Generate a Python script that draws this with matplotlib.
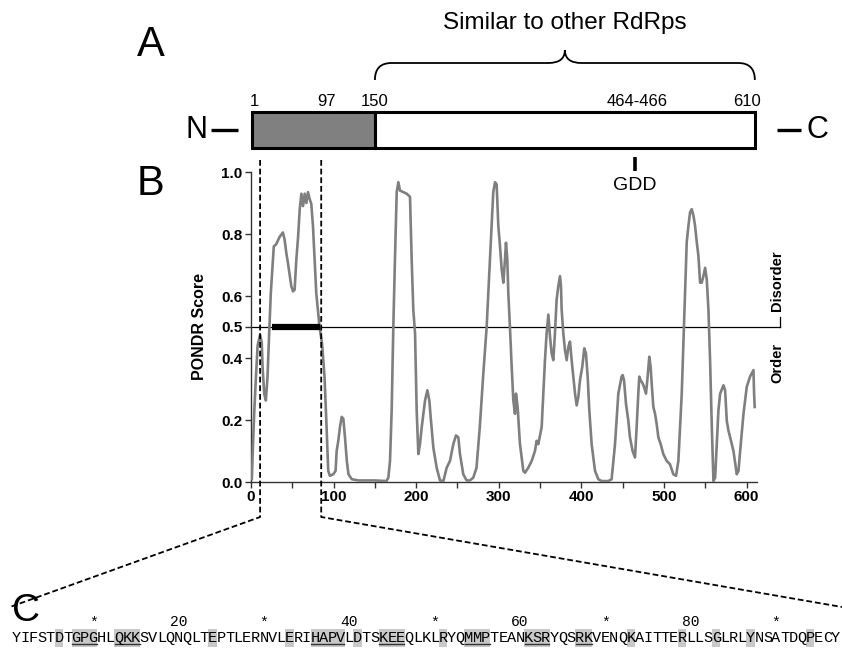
import matplotlib
matplotlib.use('Agg')
import matplotlib.pyplot as plt
from matplotlib.path import Path
from matplotlib.patches import PathPatch, Rectangle

plt.rcParams['font.family'] = ['Liberation Sans', 'DejaVu Sans']

# ---------------- data ----------------
residue = [1, 2, 4, 6, 8, 11, 13, 14, 16, 18, 20, 22, 24, 27.6, 30.5, 34.5, 38.6, 40.6, 42.7, 44.7,
           48.8, 50.8, 52.8, 54.9, 57, 59, 61, 63, 65, 67, 69, 71, 73, 75, 77, 79, 83, 86, 89, 91.5,
           93.5, 95.5, 99.6, 102.4, 103.7, 105.7, 107.7, 109.8, 111.8, 113.8, 116, 118, 122, 130, 150,
           164, 166.3, 168.3, 170.3, 172.3, 174.3, 176.4, 178.4, 180.4, 184.4, 188.5, 192.5, 194.5,
           196.5, 198.6, 200.6, 202.6, 204.6, 206.7, 208.7, 210.7, 213.5, 215.9, 217.5, 220.8, 224.8,
           228.8, 232.9, 236.9, 240.9, 245, 248.2, 251, 253, 257, 261, 265, 269.1, 273, 277, 281,
           285.3, 289.3, 293.3, 295.4, 297.4,
           299.4, 301.4, 303.5, 305.5, 307.5, 308.7, 310.3, 311.5, 313.5, 315.6, 317.6, 319.6, 320.8,
           322.8, 325.6, 329.7, 331.7, 335.7, 339.8, 343.8, 345.8, 347.8, 351.9, 353.9, 355.9, 357.9,
           360, 362, 364, 366, 368, 370, 372, 374.1, 375.3, 376.1, 378.1, 380.1, 382.2, 384.2, 386.2,
           388.2, 390.2, 392.3, 394.3, 396.3, 398.3, 401.1, 403.5, 405.5, 407.6, 409.6, 412.4, 416.5,
           420.5, 424.5, 432.6, 436.6, 440.7, 444.7, 448.7,
           450, 451.6, 454, 456.8, 458.8, 462, 464.9, 466.9, 468.9, 470.1, 471.8, 474.2, 475.8, 478.2,
           479.8, 482.2, 483.8, 485.1, 487.1, 489.1, 491.1, 493.2, 496, 499.2, 503.3, 507.3, 511.3,
           514.6, 517.4, 519.4, 521.5, 523.5, 525.5, 527.5, 529.6, 531.6, 533.6, 535.6, 537.6, 539.7,
           541.7, 543.7, 545.7, 547.7, 549.8, 551.8, 553.8, 555.8, 557.9, 559.9, 561.9, 563.9, 565.9,
           568, 572, 574, 576, 578, 580.1, 584.1, 588.1, 590.2, 592.2, 596.2, 600.2, 604.2, 608.3,
           609.1, 609.8]
pondr_score = [0.01, 0.09, 0.23, 0.34, 0.44, 0.475, 0.45, 0.37, 0.285, 0.263, 0.34, 0.48, 0.61, 0.76,
               0.767, 0.79, 0.805, 0.783, 0.74, 0.707, 0.632, 0.615, 0.62, 0.718, 0.79, 0.88, 0.93,
               0.89, 0.93, 0.9, 0.935, 0.913, 0.897, 0.827, 0.718, 0.61, 0.50, 0.447, 0.34, 0.177,
               0.036, 0.02, 0.025, 0.036, 0.1, 0.133, 0.177, 0.21, 0.204, 0.144, 0.068, 0.025, 0.009,
               0.005, 0.005,
               0.003, 0.014, 0.068, 0.23, 0.5, 0.72, 0.935, 0.967, 0.94, 0.935, 0.93, 0.92, 0.72,
               0.556, 0.48, 0.23, 0.09, 0.123, 0.177, 0.22, 0.263, 0.296, 0.263, 0.21, 0.11, 0.046,
               0.005, 0.003, 0.046, 0.068, 0.123, 0.15, 0.144, 0.09, 0.025, 0.005, 0.005, 0.014, 0.046,
               0.177, 0.34, 0.5, 0.718, 0.935, 0.967, 0.96,
               0.827, 0.762, 0.686, 0.643, 0.718, 0.772, 0.718, 0.61, 0.5, 0.372, 0.263, 0.22, 0.285,
               0.242, 0.123, 0.036, 0.03, 0.046, 0.068, 0.1, 0.133, 0.122, 0.177, 0.285, 0.393, 0.48,
               0.54, 0.469, 0.415, 0.393, 0.48, 0.588, 0.631, 0.664, 0.631, 0.556, 0.48, 0.426, 0.393,
               0.436, 0.453, 0.393, 0.34, 0.285, 0.247, 0.274, 0.328, 0.372, 0.431, 0.415, 0.34, 0.231,
               0.122, 0.036, 0.009, 0.003, 0.003, 0.009, 0.122, 0.285, 0.34,
               0.345, 0.328, 0.252, 0.198, 0.144, 0.1, 0.079, 0.177, 0.285, 0.34, 0.328, 0.318, 0.307,
               0.285, 0.328, 0.404, 0.372, 0.318, 0.242, 0.221, 0.188, 0.144, 0.122, 0.09, 0.068,
               0.057, 0.025, 0.02, 0.068, 0.177, 0.285, 0.448, 0.61, 0.773, 0.827, 0.87, 0.88, 0.86,
               0.827, 0.773, 0.729, 0.643, 0.643, 0.664, 0.691, 0.653, 0.556, 0.393, 0.177, 0.003,
               0.014, 0.122, 0.231, 0.285, 0.312, 0.296, 0.198, 0.166, 0.144, 0.1, 0.025, 0.036, 0.1,
               0.219, 0.307, 0.34, 0.361, 0.285, 0.242]

threshold = 0.5
disorder_region = [26, 83]
zoom_region = [11, 85]

domain_starts = [1, 150]
domain_ends = [150, 610]
domain_colors = ['#808080', '#ffffff']
site_labels = ['1', '97', '150', '464-466', '610']
site_positions = [1, 97, 150, 465, 610]
gdd_position = 465
similar_region = [150, 610]

sequence = ("YIFSTDTGPGHLQKKSVLQNQLTEPTLERNVLERIHAPVLDTSKEEQLKLRYQMMPTEANKSRY"
            "QSRKVENQKAITTERLLSGLRLYNSATDQPECY")
shaded_positions = [6, 8, 9, 10, 13, 14, 15, 24, 33, 36, 37, 38, 39, 41, 44, 45, 46, 51,
                    54, 55, 56, 61, 62, 63, 67, 68, 73, 79, 83, 87, 94]
underlined_groups = [(8, 10), (13, 15), (36, 39), (44, 46), (54, 56), (61, 63), (67, 68)]
ruler_positions = [10, 20, 30, 40, 50, 60, 70, 80, 90]
ruler_labels = ['*', '20', '*', '40', '*', '60', '*', '80', '*']

# ---------------- figure ----------------
W, H = 842, 649
fig = plt.figure(figsize=(W / 100, H / 100), dpi=100)


def fig_rect(x0, y0, x1, y1):
    return [x0 / W, 1 - y1 / H, (x1 - x0) / W, (y1 - y0) / H]


# ---- panel B ----
ax_b = fig.add_axes(fig_rect(251, 172, 756.5, 482))
ax_b.plot(residue, pondr_score, color='#7f7f7f', lw=1.9, zorder=3)
ax_b.set_xlim(0, 612)
ax_b.set_ylim(0, 1.0)
ax_b.plot([0, 640], [threshold, threshold], color='black', lw=0.9, clip_on=False, zorder=2)
ax_b.plot([640, 640], [threshold, threshold + 0.032], color='black', lw=0.9, clip_on=False)
ax_b.plot(disorder_region, [threshold, threshold], color='black', lw=4.5,
          solid_capstyle='butt', zorder=4)
for s in ['top', 'right']:
    ax_b.spines[s].set_visible(False)
for s in ['left', 'bottom']:
    ax_b.spines[s].set_color('#333333')
    ax_b.spines[s].set_linewidth(1.0)
ax_b.set_xticks([0, 100, 200, 300, 400, 500, 600])
ax_b.set_xticks([50, 150, 250, 350, 450, 550], minor=True)
ax_b.set_yticks([0, 0.2, 0.4, 0.5, 0.6, 0.8, 1.0])
ax_b.set_yticklabels(['0.0', '0.2', '0.4', '0.5', '0.6', '0.8', '1.0'])
ax_b.tick_params(which='both', direction='out', length=4, width=1, color='#333333', pad=2,
                 labelsize=11)
for lab in ax_b.get_xticklabels() + ax_b.get_yticklabels():
    lab.set_fontweight('bold')
ax_b.set_ylabel('PONDR Score', fontsize=11.5, fontweight='bold')
ax_b.yaxis.set_label_coords(-0.087, 0.5)
ax_b.text(637, 0.648, 'Disorder', rotation=90, ha='center', va='center', fontsize=10.5,
          fontweight='bold', clip_on=False)
ax_b.text(637, 0.384, 'Order', rotation=90, ha='center', va='center', fontsize=10.5,
          fontweight='bold', clip_on=False)

# ---- panel A (x in residues, y in pixels from top) ----
ax_a = fig.add_axes(fig_rect(251, 0, 756.5, 200))
ax_a.set_xlim(0, 612)
ax_a.set_ylim(200, 0)
ax_a.axis('off')
for s, e, c in zip(domain_starts, domain_ends, domain_colors):
    ax_a.add_patch(Rectangle((s, 112), e - s, 36, facecolor=c, edgecolor='black', lw=2.2,
                             clip_on=False))
label_x = [4, 92, 150, 467, 600]
for lab, lx in zip(site_labels, label_x):
    ax_a.text(lx, 101, lab, ha='center', va='center', fontsize=12, clip_on=False)
ax_a.plot([gdd_position, gdd_position], [157, 171], color='black', lw=2.6,
          solid_capstyle='butt', clip_on=False)
ax_a.text(gdd_position, 186, 'GDD', ha='center', va='center', fontsize=14, clip_on=False)

b0, b1 = similar_region
mid = (b0 + b1) / 2
r = 20
verts = [(b0, 80), (b0, 63), (b0 + r, 63),
         (mid - r, 63),
         (mid, 63), (mid, 50),
         (mid, 63), (mid + r, 63),
         (b1 - r, 63),
         (b1, 63), (b1, 80)]
codes = [Path.MOVETO, Path.CURVE3, Path.CURVE3,
         Path.LINETO,
         Path.CURVE3, Path.CURVE3,
         Path.CURVE3, Path.CURVE3,
         Path.LINETO,
         Path.CURVE3, Path.CURVE3]
ax_a.add_patch(PathPatch(Path(verts, codes), facecolor='none', edgecolor='black', lw=1.3,
                         clip_on=False))
ax_a.text(mid, 23, 'Similar to other RdRps', ha='center', va='center', fontsize=17.5,
          clip_on=False)

# ---- panel C (x in residue index) ----
ax_c = fig.add_axes(fig_rect(12, 595, 840, 649))
ax_c.set_xlim(0.5, 97.5)
ax_c.set_ylim(649, 595)
ax_c.axis('off')
for p in shaded_positions:
    ax_c.add_patch(Rectangle((p - 0.5, 629), 1, 18, facecolor='#c8c8c8', edgecolor='none',
                             clip_on=False))
for a, b in underlined_groups:
    ax_c.plot([a - 0.45, b + 0.45], [644, 644], color='#333333', lw=1.0, clip_on=False)
for i, ch in enumerate(sequence, start=1):
    ax_c.text(i, 637.5, ch, ha='center', va='center', fontsize=11, family='Liberation Mono',
              clip_on=False)
for p, lab in zip(ruler_positions, ruler_labels):
    ax_c.text(p, 622 if lab != '*' else 623, lab, ha='center', va='center', fontsize=10.5,
              family='Liberation Mono', clip_on=False)

# ---- overlay (figure pixels) ----
ov = fig.add_axes([0, 0, 1, 1])
ov.set_xlim(0, W)
ov.set_ylim(H, 0)
ov.axis('off')
ov.patch.set_alpha(0)

xl = ax_b.transData.transform((zoom_region[0], 0))[0]
xr = ax_b.transData.transform((zoom_region[1], 0))[0]
ds = (0, (3.2, 1.6))
ov.plot([xl, xl, 10], [160, 517, 607], color='black', lw=1.3, linestyle=ds)
ov.plot([xr, xr, 842], [160, 517, 607], color='black', lw=1.3, linestyle=ds)

ov.text(151, 45, 'A', ha='center', va='center', fontsize=30)
ov.text(150, 184, 'B', ha='center', va='center', fontsize=30)
ov.text(26, 611, 'C', ha='center', va='center', fontsize=28)
ov.text(196, 130, 'N', ha='center', va='center', fontsize=22)
ov.plot([211, 238], [130, 130], color='black', lw=2.4, solid_capstyle='butt')
ov.plot([777, 801], [130, 130], color='black', lw=2.4, solid_capstyle='butt')
ov.text(817, 130, 'C', ha='center', va='center', fontsize=22)

fig.savefig('out.png', dpi=100)
